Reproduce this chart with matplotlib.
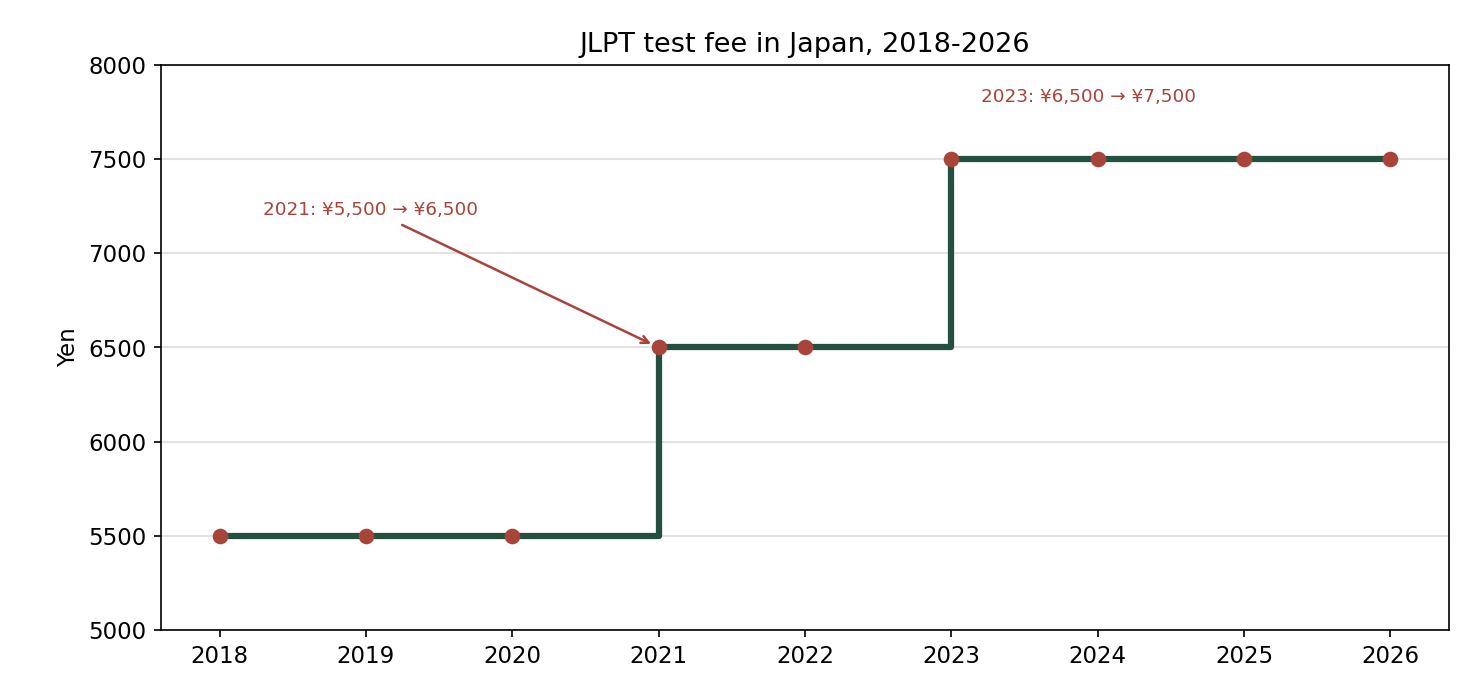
import matplotlib
matplotlib.use('Agg')
import matplotlib.pyplot as plt

years = [2018, 2019, 2020, 2021, 2022, 2023, 2024, 2025, 2026]
fee = [5500, 5500, 5500, 6500, 6500, 7500, 7500, 7500, 7500]

line_col = '#24513f'
dot_col = '#a8443a'

fig = plt.figure(figsize=(9.8, 4.547), dpi=150)
ax = fig.add_axes([0.1095, 0.0762, 0.8762, 0.8285])

ax.plot(years, fee, drawstyle='steps-post', color=line_col, lw=3.0, zorder=2)
ax.plot(years, fee, 'o', color=dot_col, ms=6.5, zorder=3)

ax.annotate('2021: ¥5,500 → ¥6,500', xy=(2021, 6500), xytext=(2018.3, 7230),
            color=dot_col, fontsize=8.8, va='center',
            arrowprops=dict(arrowstyle='->', color=dot_col, lw=1.2, shrinkB=4))
ax.text(2023.2, 7830, '2023: ¥6,500 → ¥7,500', color=dot_col, fontsize=8.8, va='center')

ax.set_xlim(2017.6, 2026.4)
ax.set_ylim(5000, 8000)
ax.set_xticks(years)
ax.tick_params(labelsize=11)
ax.set_ylabel('Yen', fontsize=11)
ax.set_title('JLPT test fee in Japan, 2018-2026', fontsize=13)
ax.grid(axis='y', color='#e3e3e3', lw=1)
ax.set_axisbelow(True)

fig.savefig('out.png', dpi=150)
